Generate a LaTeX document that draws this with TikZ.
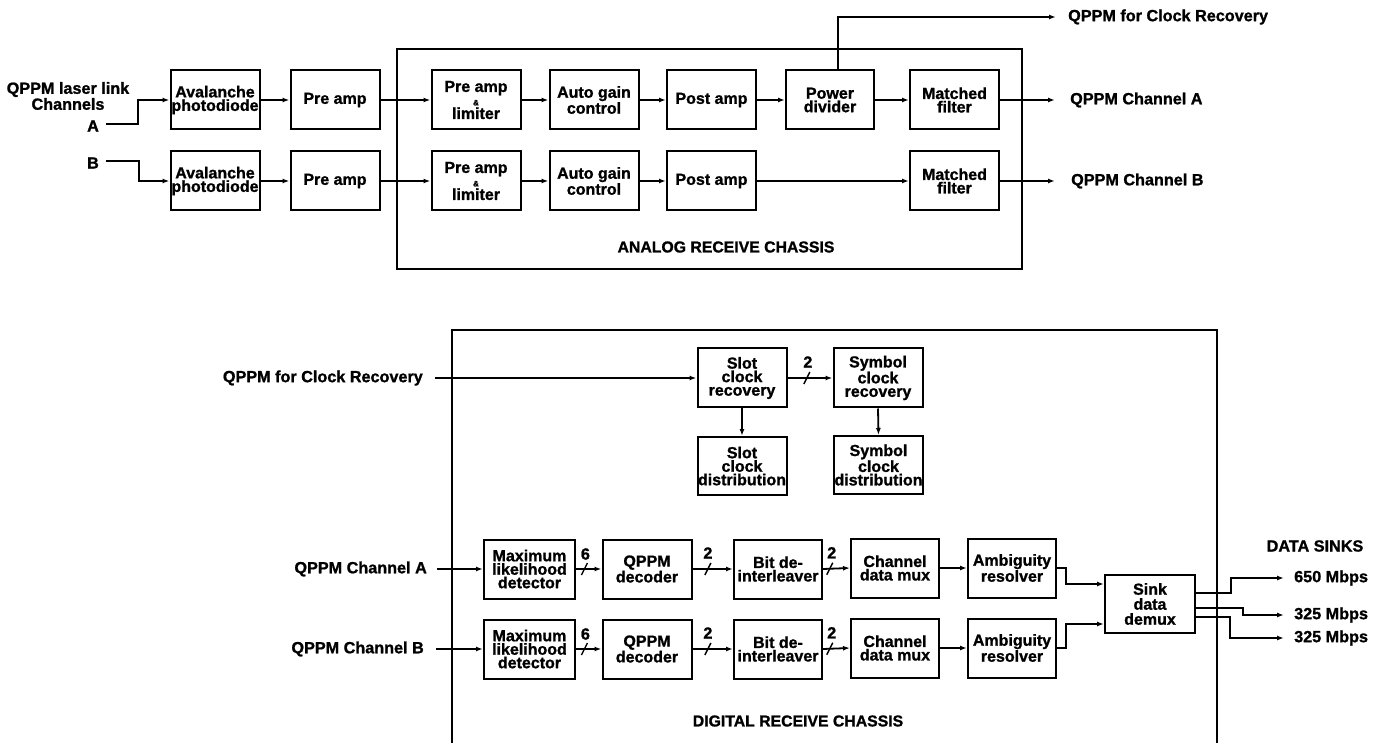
\documentclass[tikz,border=0pt]{standalone}
\usepackage{fontspec}
\setmainfont{Liberation Sans}[BoldFeatures={FakeBold=1.2}]
\usetikzlibrary{arrows.meta,calc}
\newcommand{\bxfont}{\fontsize{16pt}{13.5pt}\selectfont\bfseries}
\newcommand{\lbfont}{\fontsize{16.2pt}{14pt}\selectfont\bfseries}
\newcommand{\chfont}{\fontsize{15.8pt}{14pt}\selectfont\bfseries}
\newcommand{\ampfont}{\fontsize{8pt}{8pt}\selectfont\bfseries}
\begin{document}
\begin{tikzpicture}[x=1pt,y=-1pt,
  box/.style={draw, line width=2pt, minimum width=89pt, minimum height=59pt, inner sep=0pt, align=center, font=\bxfont},
  conn/.style={line width=1.8pt, -{Latex[length=7pt,width=5pt]}},
  slashmark/.style={line width=1.4pt},
  chassis/.style={line width=2.2pt},
  lbl/.style={inner sep=0pt, font=\lbfont},
  num/.style={inner sep=0pt, font=\lbfont},
]
\useasboundingbox (0,0) rectangle (1385,743);

% ---------------- Analog section ----------------
\draw[chassis] (397,49) rectangle (1022,269);
\node[lbl, font=\chfont] (anlbl) at (726,247) {ANALOG RECEIVE CHASSIS};

\node[lbl, align=center] (qin) at (68,96) {QPPM laser link\\Channels};
\node[lbl] (inA) at (93,126) {A};
\node[lbl] (inB) at (93,163) {B};

\node[box] (avA) at (215,100) {Avalanche\\photodiode};
\node[box] (avB) at (215,181) {Avalanche\\photodiode};
\node[box] (preA) at (335,100) {Pre amp};
\node[box] (preB) at (335,181) {Pre amp};
\node[box] (plA) at (476,100) {Pre amp\\{\ampfont\&}\\limiter};
\node[box] (plB) at (476,181) {Pre amp\\{\ampfont\&}\\limiter};
\node[box] (agcA) at (594,100) {Auto gain\\control};
\node[box] (agcB) at (594,181) {Auto gain\\control};
\node[box] (postA) at (711.5,100) {Post amp};
\node[box] (postB) at (711.5,181) {Post amp};
\node[box, minimum width=88pt] (pd) at (830,100) {Power\\divider};
\node[box] (mfA) at (954.5,100) {Matched\\filter};
\node[box] (mfB) at (954.5,181) {Matched\\filter};

\node[lbl, anchor=west] (clkout) at (1068,17) {QPPM for Clock Recovery};
\node[lbl, anchor=west] (outA) at (1070,100) {QPPM Channel A};
\node[lbl, anchor=west] (outB) at (1071,181) {QPPM Channel B};

\draw[conn] (inA.east) ++(7,-2) -- (138,124) |- (avA.west);
\draw[conn] (inB.east) ++(7,-2) -- (139,161) |- (avB.west);
\draw[conn] (avA.east) -- (preA.west);
\draw[conn] (avB.east) -- (preB.west);
\draw[conn] (preA.east) -- (plA.west);
\draw[conn] (preB.east) -- (plB.west);
\draw[conn] (plA.east) -- (agcA.west);
\draw[conn] (plB.east) -- (agcB.west);
\draw[conn] (agcA.east) -- (postA.west);
\draw[conn] (agcB.east) -- (postB.west);
\draw[conn] (postA.east) -- (pd.west);
\draw[conn] (postB.east) -- (mfB.west);
\draw[conn] (pd.east) -- (mfA.west);
\draw[conn] ([xshift=8pt]pd.north) |- ([xshift=-12pt]clkout.west);
\draw[conn] (mfA.east) -- ([xshift=-15pt]outA.west);
\draw[conn] (mfB.east) -- ([xshift=-16pt]outB.west);

% ---------------- Digital section ----------------
\draw[chassis] (452,743) -- (452,330) -- (1217,330) -- (1217,743);
\node[lbl, font=\chfont] (dglbl) at (798,721) {DIGITAL RECEIVE CHASSIS};

\node[lbl, anchor=east] (clkin) at (423,378) {QPPM for Clock Recovery};
\node[box] (scr) at (742,378) {Slot\\clock\\recovery};
\node[box] (syr) at (878,378) {Symbol\\clock\\recovery};
\node[box, minimum height=58pt] (scd) at (742,466) {Slot\\clock\\distribution};
\node[box, minimum height=58pt] (syd) at (878.5,465) {Symbol\\clock\\distribution};

\draw[conn] ([xshift=12pt]clkin.east) -- (scr.west);
\draw[conn] (scr.east) -- coordinate[pos=0.43] (s0) (syr.west);
\draw[slashmark] (s0) ++(-3,6) -- ++(6,-12);
\node[num] (n0) at ($(s0)+(1,-16)$) {2};
\draw[conn] (scr.south) -- (scd.north);
\draw[conn] (syr.south) -- (syd.north);

\node[lbl, anchor=east] (chA) at (427,569) {QPPM Channel A};
\node[lbl, anchor=east] (chB) at (424,649) {QPPM Channel B};

\node[box, minimum width=91pt] (mlA) at (529.5,569) {Maximum\\likelihood\\detector};
\node[box, minimum width=91pt] (mlB) at (529.5,649) {Maximum\\likelihood\\detector};
\node[box] (qdA) at (647,569) {QPPM\\decoder};
\node[box] (qdB) at (647,649) {QPPM\\decoder};
\node[box, minimum width=88pt] (biA) at (778,569) {Bit de-\\interleaver};
\node[box, minimum width=88pt] (biB) at (778,649) {Bit de-\\interleaver};
\node[box, minimum width=88pt] (cmA) at (895,568) {Channel\\data mux};
\node[box, minimum width=88pt] (cmB) at (895,648) {Channel\\data mux};
\node[box, minimum width=88pt] (arA) at (1012,568) {Ambiguity\\resolver};
\node[box, minimum width=88pt] (arB) at (1012,648) {Ambiguity\\resolver};
\node[box, minimum width=90pt, minimum height=58pt, font=\fontsize{16pt}{15pt}\selectfont\bfseries] (sink) at (1150,604) {Sink\\data\\demux};

\draw[conn] ([xshift=10pt]chA.east) -- (mlA.west);
\draw[conn] ([xshift=12pt]chB.east) -- (mlB.west);

\draw[conn] (mlA.east) -- coordinate[pos=0.33] (s1) (qdA.west);
\draw[slashmark] (s1) ++(-3,6) -- ++(6,-12);
\node[num] (n1) at ($(s1)+(1,-15)$) {6};
\draw[conn] (mlB.east) -- coordinate[pos=0.33] (s2) (qdB.west);
\draw[slashmark] (s2) ++(-3,6) -- ++(6,-12);
\node[num] (n2) at ($(s2)+(1,-15)$) {6};

\draw[conn] (qdA.east) -- coordinate[pos=0.38] (s3) (biA.west);
\draw[slashmark] (s3) ++(-3,6) -- ++(6,-12);
\node[num] (n3) at ($(s3)+(0,-16)$) {2};
\draw[conn] (qdB.east) -- coordinate[pos=0.38] (s4) (biB.west);
\draw[slashmark] (s4) ++(-3,6) -- ++(6,-12);
\node[num] (n4) at ($(s4)+(0,-16)$) {2};

\draw[conn] (biA.east) -- coordinate[pos=0.25] (s5) (cmA.west);
\draw[slashmark] (s5) ++(-3,6) -- ++(6,-12);
\node[num] (n5) at ($(s5)+(2,-16)$) {2};
\draw[conn] (biB.east) -- coordinate[pos=0.25] (s6) (cmB.west);
\draw[slashmark] (s6) ++(-3,6) -- ++(6,-12);
\node[num] (n6) at ($(s6)+(2,-16)$) {2};

\draw[conn] (cmA.east) -- (arA.west);
\draw[conn] (cmB.east) -- (arB.west);
\draw[conn] (arA.east) -- ++(9,0) |- ($(sink.west)+(0,-20)$);
\draw[conn] (arB.east) -- ++(9,0) |- ($(sink.west)+(0,20)$);

\node[lbl] (sinks) at (1315,546) {DATA SINKS};
\node[lbl, anchor=west] (o1) at (1294,578) {650 Mbps};
\node[lbl, anchor=west] (o2) at (1294,615) {325 Mbps};
\node[lbl, anchor=west] (o3) at (1294,638) {325 Mbps};

\draw[conn] ($(sink.east)+(0,-11)$) -- ++(35,0) |- ($(o1.west)+(-10,0)$);
\draw[conn] ($(sink.east)+(0,4)$) -- ++(47,0) |- ($(o2.west)+(-10,0)$);
\draw[conn] ($(sink.east)+(0,13)$) -- ++(34,0) |- ($(o3.west)+(-10,0)$);
\end{tikzpicture}
\end{document}
